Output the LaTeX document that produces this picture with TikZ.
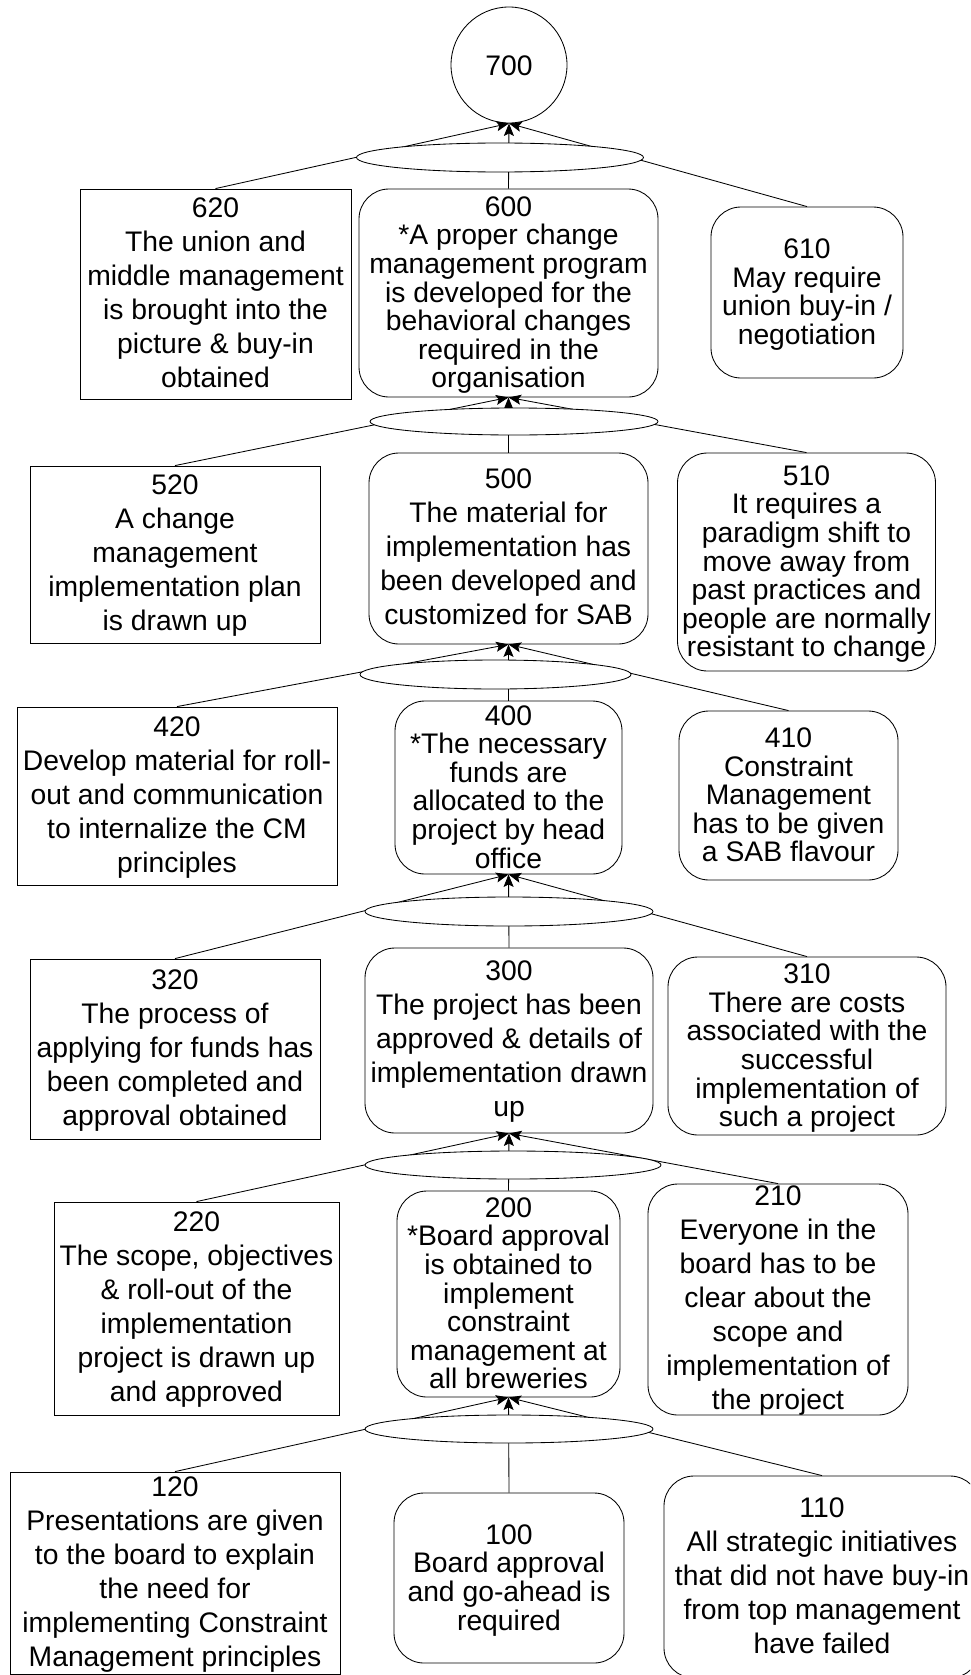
\documentclass[tikz,border=0pt]{standalone}
\usepackage{fontspec}
\setmainfont{Liberation Sans}
\usetikzlibrary{shapes.geometric,arrows.meta}

\tikzset{
  sqbox/.style={draw, line width=0.85pt, rectangle, inner sep=0pt},
  rndbox/.style={draw, line width=0.85pt, rectangle, rounded corners=30pt, inner sep=0pt},
  andlink/.style={draw, line width=0.85pt, ellipse, fill=white, inner sep=0pt},
  goal/.style={draw, line width=0.85pt, circle, inner sep=0pt, minimum size=116pt},
  txtwide/.style={align=center, inner sep=0pt, yshift=-3.5pt,
    font=\fontsize{28.3pt}{34pt}\selectfont,
    execute at begin node=\strut, execute at end node=\strut},
  txttight/.style={align=center, inner sep=0pt, yshift=-3.5pt,
    font=\fontsize{28.3pt}{28.6pt}\selectfont,
    execute at begin node=\strut, execute at end node=\strut},
  arr/.style={line width=0.85pt, -{Stealth[length=12.5pt, width=10pt, inset=2.5pt]}},
}

\begin{document}
\begin{tikzpicture}[x=1pt, y=-1pt]
\clip (0,0) rectangle (970,1675);

% goal at the top
\node[goal] (n700) at (509,65) {};
\node[txtwide] (t700) at (n700.center) {700};

% level 6
\node[sqbox, minimum width=271pt, minimum height=210pt] (n620) at (215.5,294) {};
\node[txtwide] (t620) at (n620.center) {620\\The union and\\middle management\\is brought into the\\picture \& buy-in\\obtained};
\node[rndbox, minimum width=299pt, minimum height=208pt] (n600) at (508.5,293) {};
\node[txttight] (t600) at (n600.center) {600\\*A proper change\\management program\\is developed for the\\behavioral changes\\required in the\\organisation};
\node[rndbox, minimum width=192pt, minimum height=171pt] (n610) at (807,292.5) {};
\node[txttight] (t610) at (n610.center) {610\\May require\\union buy-in /\\negotiation};

% level 5
\node[sqbox, minimum width=290pt, minimum height=177pt] (n520) at (175,554.5) {};
\node[txtwide] (t520) at (n520.center) {520\\A change\\management\\implementation plan\\is drawn up};
\node[rndbox, minimum width=279pt, minimum height=191pt] (n500) at (508.5,548.5) {};
\node[txtwide] (t500) at (n500.center) {500\\The material for\\implementation has\\been developed and\\customized for SAB};
\node[rndbox, minimum width=258pt, minimum height=218pt] (n510) at (806.5,562) {};
\node[txttight] (t510) at (n510.center) {510\\It requires a\\paradigm shift to\\move away from\\past practices and\\people are normally\\resistant to change};

% level 4
\node[sqbox, minimum width=320pt, minimum height=178pt] (n420) at (177,796) {};
\node[txtwide] (t420) at (n420.center) {420\\Develop material for roll-\\out and communication\\to internalize the CM\\principles};
\node[rndbox, minimum width=227pt, minimum height=173pt] (n400) at (508.5,787.5) {};
\node[txttight] (t400) at (n400.center) {400\\*The necessary\\funds are\\allocated to the\\project by head\\office};
\node[rndbox, minimum width=219pt, minimum height=169pt] (n410) at (788.5,795.5) {};
\node[txttight] (t410) at (n410.center) {410\\Constraint\\Management\\has to be given\\a SAB flavour};

% level 3
\node[sqbox, minimum width=290pt, minimum height=180pt] (n320) at (175,1049) {};
\node[txtwide] (t320) at (n320.center) {320\\The process of\\applying for funds has\\been completed and\\approval obtained};
\node[rndbox, minimum width=288pt, minimum height=185pt] (n300) at (509,1040.5) {};
\node[txtwide] (t300) at (n300.center) {300\\The project has been\\approved \& details of\\implementation drawn\\up};
\node[rndbox, minimum width=278pt, minimum height=178pt] (n310) at (807,1046) {};
\node[txttight] (t310) at (n310.center) {310\\There are costs\\associated with the\\successful\\implementation of\\such a project};

% level 2
\node[sqbox, minimum width=285pt, minimum height=213pt] (n220) at (196.5,1308.5) {};
\node[txtwide] (t220) at (n220.center) {220\\The scope, objectives\\\& roll-out of the\\implementation\\project is drawn up\\and approved};
\node[rndbox, minimum width=223pt, minimum height=206pt] (n200) at (508.5,1294) {};
\node[txttight] (t200) at (n200.center) {200\\*Board approval\\is obtained to\\implement\\constraint\\management at\\all breweries};
\node[rndbox, minimum width=260pt, minimum height=231pt] (n210) at (778,1299.5) {};
\node[txtwide] (t210) at (n210.center) {210\\Everyone in the\\board has to be\\clear about the\\scope and\\implementation of\\the project};

% level 1
\node[sqbox, minimum width=330pt, minimum height=202pt] (n120) at (175,1573) {};
\node[txtwide] (t120) at (n120.center) {120\\Presentations are given\\to the board to explain\\the need for\\implementing Constraint\\Management principles};
\node[rndbox, minimum width=230pt, minimum height=170pt] (n100) at (509,1578) {};
\node[txttight] (t100) at (n100.center) {100\\Board approval\\and go-ahead is\\required};
\node[rndbox, minimum width=316pt, minimum height=202pt] (n110) at (822,1577) {};
\node[txtwide] (t110) at (n110.center) {110\\All strategic initiatives\\that did not have buy-in\\from top management\\have failed};

% connectors: each child points to the bottom of its parent
\foreach \p/\a/\b/\c in {n700/n620/n600/n610, n600/n520/n500/n510, n500/n420/n400/n410,
                         n400/n320/n300/n310, n300/n220/n200/n210, n200/n120/n100/n110} {
  \draw[arr] (\a.north) -- (\p.south);
  \draw[arr] (\b.north) -- (\p.south);
  \draw[arr] (\c.north) -- (\p.south);
}

% "and" ellipses laid over the connectors
\node[andlink, minimum width=287pt, minimum height=29pt] (e6) at (500,157.5) {};
\node[andlink, minimum width=288pt, minimum height=27pt] (e5) at (514,421.5) {};
\node[andlink, minimum width=271pt, minimum height=29pt] (e4) at (495.5,674.5) {};
\node[andlink, minimum width=288pt, minimum height=29pt] (e3) at (509,911.5) {};
\node[andlink, minimum width=296pt, minimum height=28pt] (e2) at (513,1165) {};
\node[andlink, minimum width=288pt, minimum height=28pt] (e1) at (509,1429) {};
\end{tikzpicture}
\end{document}
